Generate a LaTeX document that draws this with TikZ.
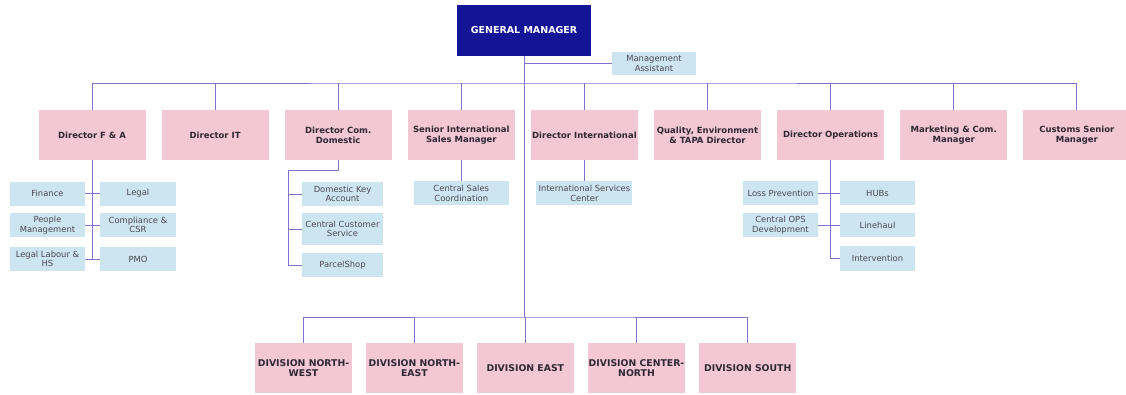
\documentclass[tikz,border=0pt]{standalone}
\usepackage{fontspec}
\setmainfont{DejaVu Sans}
\usetikzlibrary{positioning}
\definecolor{gmblue}{RGB}{20,20,150}
\definecolor{rosebox}{RGB}{243,199,211}
\definecolor{skybox}{RGB}{205,229,240}
\definecolor{orgline}{RGB}{125,115,205}
\definecolor{boxtext}{RGB}{45,40,50}

\begin{document}
\begin{tikzpicture}[x=1pt, y=1pt, node distance=15.7pt,
    every node/.style={align=center, inner sep=1pt},
    head/.style={rectangle, fill=gmblue, text=white, font=\bfseries\fontsize{9.5}{11}\selectfont, minimum width=134pt, minimum height=51pt},
    director/.style={rectangle, fill=rosebox, text=boxtext, font=\bfseries\fontsize{8.5}{10}\selectfont, minimum width=107pt, minimum height=50pt},
    division/.style={director, font=\bfseries\fontsize{9.3}{10.5}\selectfont, minimum width=97pt},
    unit/.style={rectangle, fill=skybox, text=boxtext!85, font=\fontsize{8.4}{9.6}\selectfont, minimum width=75pt, minimum height=24pt},
    link/.style={draw=orgline, line width=0.9pt}]
    \useasboundingbox (0,0) rectangle (1126,-394);

    % top
    \node[head] (gm) at (524,-30.5) {GENERAL MANAGER};
    \node[unit, minimum width=84pt, minimum height=23pt] (assist) at (654,-63.5) {Management\\Assistant};

    % directors
    \node[director] (fa) at (92,-135) {Director F \& A};
    \node[director, right=of fa] (it) {Director IT};
    \node[director, right=of it] (com) {Director Com.\\Domestic};
    \node[director, right=of com] (senior) {Senior International\\Sales Manager};
    \node[director, right=of senior] (intl) {Director International};
    \node[director, right=of intl] (qual) {Quality, Environment\\\& TAPA Director};
    \node[director, right=of qual] (ops) {Director Operations};
    \node[director, right=of ops] (mkt) {Marketing \& Com.\\Manager};
    \node[director, right=of mkt] (customs) {Customs Senior\\Manager};

    % F & A
    \node[unit] (fin) at (47.5,-193.5) {Finance};
    \node[unit, minimum width=76pt] (legal) at (138,-193.5) {Legal};
    \node[unit] (people) at (47.5,-225) {People\\Management};
    \node[unit, minimum width=76pt] (compl) at (138,-225) {Compliance \&\\CSR};
    \node[unit] (labour) at (47.5,-259) {Legal Labour \&\\HS};
    \node[unit, minimum width=76pt] (pmo) at (138,-259) {PMO};

    % Com. Domestic
    \node[unit, minimum width=81pt] (dkey) at (342.5,-194) {Domestic Key\\Account};
    \node[unit, minimum width=81pt, minimum height=32pt] (ccs) at (342.5,-229) {Central Customer\\Service};
    \node[unit, minimum width=81pt] (pshop) at (342.5,-265) {ParcelShop};

    % International
    \node[unit, minimum width=95pt, below=21pt of senior] (csc) {Central Sales\\Coordination};
    \node[unit, minimum width=96pt, below=21pt of intl] (isc) {International Services\\Center};

    % Operations
    \node[unit] (loss) at (780.5,-193) {Loss Prevention};
    \node[unit] (hubs) at (877.5,-193) {HUBs};
    \node[unit] (cops) at (780.5,-225) {Central OPS\\Development};
    \node[unit] (linehaul) at (877.5,-225) {Linehaul};
    \node[unit, minimum height=25pt] (interv) at (877.5,-258.5) {Intervention};

    % divisions
    \node[division] (nw) at (303.5,-368) {DIVISION NORTH-\\WEST};
    \node[division, right=13.5pt of nw] (ne) {DIVISION NORTH-\\EAST};
    \node[division, right=13.5pt of ne] (east) {DIVISION EAST};
    \node[division, right=13.5pt of east] (cn) {DIVISION CENTER-\\NORTH};
    \node[division, right=13.5pt of cn] (south) {DIVISION SOUTH};

    % connectors
    \coordinate (topbar) at (524,-83);
    \coordinate (divbar) at (524,-317);
    \coordinate (comturn) at (288,-170);
    \draw[link] (gm.south) -- (divbar);
    \draw[link] (gm.south |- assist.west) -- (assist.west);
    \draw[link] (fa.north) |- (topbar) -| (customs.north);
    \foreach \d in {it, com, senior, intl, qual, ops, mkt}
        \draw[link] (\d.north) -- (\d.north |- topbar);
    \draw[link] (nw.north) |- (divbar) -| (south.north);
    \foreach \d in {ne, east, cn}
        \draw[link] (\d.north) -- (\d.north |- divbar);

    \draw[link] (fa.south) -- (fa.south |- labour.east);
    \draw[link] (fin.east) -- (legal.west);
    \draw[link] (people.east) -- (compl.west);
    \draw[link] (labour.east) -- (pmo.west);

    \draw[link] (com.south) |- (comturn) -- (comturn |- pshop.west) -- (pshop.west);
    \draw[link] (comturn |- dkey.west) -- (dkey.west);
    \draw[link] (comturn |- ccs.west) -- (ccs.west);

    \draw[link] (senior.south) -- (csc.north);
    \draw[link] (intl.south) -- (isc.north);

    \draw[link] (ops.south) -- (ops.south |- interv.west) -- (interv.west);
    \draw[link] (loss.east) -- (hubs.west);
    \draw[link] (cops.east) -- (linehaul.west);
\end{tikzpicture}
\end{document}
